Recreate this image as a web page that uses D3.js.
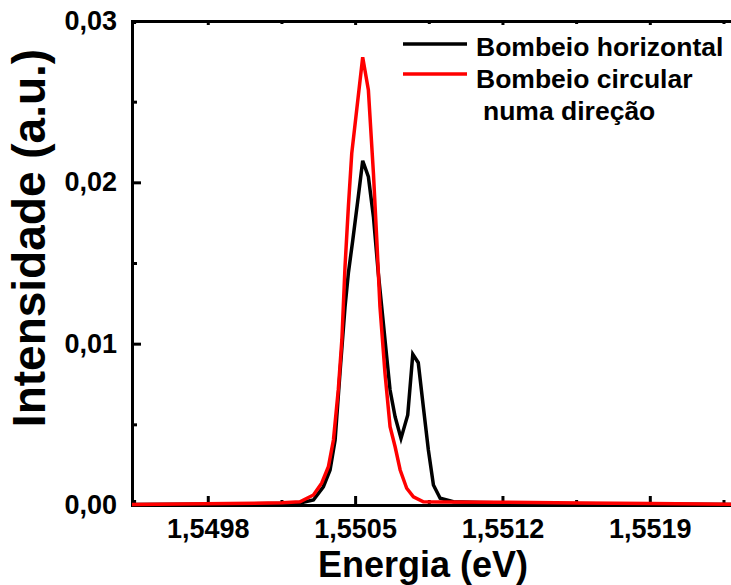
<!DOCTYPE html>
<html>
<head>
<meta charset="utf-8">
<script src="https://cdn.jsdelivr.net/npm/d3@7"></script>
<style>
  html, body { margin: 0; padding: 0; background: #fff; }
  svg { display: block; font-family: "Liberation Sans", Arial, sans-serif; font-weight: bold; }
  .axis path, .axis line { stroke: #000; stroke-width: 3; }
  .axis path { stroke-linecap: square; }
  .axis text { fill: #000; font-size: 27px; font-family: "Liberation Sans", Arial, sans-serif; font-weight: bold; }
</style>
</head>
<body>
<svg id="chart" width="731" height="585"></svg>
<script>
// Photoluminescence spectra: linear horizontal pumping vs circular pumping in one direction
const energyHorizontal = [
  1.54944, 1.549906, 1.550143, 1.550238, 1.550302, 1.550349, 1.550381, 1.550405,
  1.550428, 1.550452, 1.550468, 1.550489, 1.550515, 1.550536, 1.550563, 1.550587,
  1.550610, 1.550634, 1.550650, 1.550666, 1.550690, 1.550718, 1.550750, 1.550774,
  1.550800, 1.550824, 1.550848, 1.550872, 1.550904, 1.550967, 1.551094, 1.551426,
  1.551901, 1.5523
];
const intensityHorizontal = [
  0.00003, 0.00006, 0.00009, 0.00012, 0.00031, 0.00113, 0.00217, 0.00403,
  0.00818, 0.01227, 0.01438, 0.01643, 0.01911, 0.02134, 0.02035, 0.01787,
  0.01438, 0.01128, 0.00919, 0.00713, 0.00547, 0.00413, 0.00558, 0.00934,
  0.00882, 0.00609, 0.00341, 0.00124, 0.00042, 0.00020, 0.00015, 0.00009,
  0.00006, 0.00003
];

const energyCircular = [
  1.54944, 1.549906, 1.550153, 1.550238, 1.550302, 1.550341, 1.550373, 1.550397,
  1.550420, 1.550437, 1.550452, 1.550468, 1.550484, 1.550536, 1.550563, 1.550587,
  1.550603, 1.550618, 1.550642, 1.550666, 1.550690, 1.550714, 1.550745, 1.550777,
  1.550824, 1.550903, 1.551188, 1.551568, 1.551901, 1.5523
];
const intensityCircular = [
  0.00003, 0.00009, 0.00014, 0.00020, 0.00062, 0.00135, 0.00237, 0.00403,
  0.00713, 0.01023, 0.01477, 0.01849, 0.02180, 0.02775, 0.02572, 0.02056,
  0.01643, 0.01229, 0.00816, 0.00485, 0.00361, 0.00217, 0.00104, 0.00051,
  0.00020, 0.00019, 0.00017, 0.00012, 0.00009, 0.00004
];

const xMajorTicks = [1.5498, 1.5505, 1.5512, 1.5519];
const xMinorTicks = [1.54945, 1.55015, 1.55085, 1.55155, 1.55225];
const yMajorTicks = [0, 0.01, 0.02, 0.03];
const yMinorTicks = [0.005, 0.015, 0.025];

const seriesNames = ["Bombeio horizontal", "Bombeio circular", "numa direção"];
const seriesColors = ["#000000", "#ff0000"];

const ptBR = d3.formatLocale({ decimal: ",", thousands: ".", grouping: [3], currency: ["R$", ""] });
const fmtX = ptBR.format(".4f");
const fmtY = ptBR.format(".2f");

const svg = d3.select("#chart");
const plotLeft = 132, plotRight = 734, plotTop = 21, plotBottom = 505;

const x = d3.scaleLinear().domain([1.54944, 1.5523]).range([plotLeft, plotRight]);
const y = d3.scaleLinear().domain([0, 0.03]).range([plotBottom, plotTop]);

// minor ticks (no labels)
svg.append("g").attr("class", "axis")
  .attr("transform", `translate(0,${plotBottom})`)
  .call(d3.axisBottom(x).tickValues(xMinorTicks).tickSize(-5).tickSizeOuter(0).tickFormat(""))
  .call(g => g.select(".domain").remove());
svg.append("g").attr("class", "axis")
  .attr("transform", `translate(0,${plotTop})`)
  .call(d3.axisTop(x).tickValues(xMinorTicks).tickSize(-3).tickSizeOuter(0).tickFormat(""))
  .call(g => g.select(".domain").remove());
svg.append("g").attr("class", "axis")
  .attr("transform", `translate(${plotLeft},0)`)
  .call(d3.axisLeft(y).tickValues(yMinorTicks).tickSize(-5).tickSizeOuter(0).tickFormat(""))
  .call(g => g.select(".domain").remove());

// major axes
svg.append("g").attr("class", "axis")
  .attr("transform", `translate(0,${plotBottom})`)
  .call(d3.axisBottom(x).tickValues(xMajorTicks).tickSize(-9).tickSizeOuter(0).tickPadding(14).tickFormat(fmtX));
svg.append("g").attr("class", "axis")
  .attr("transform", `translate(0,${plotTop})`)
  .call(d3.axisTop(x).tickValues(xMajorTicks).tickSize(-4).tickSizeOuter(0).tickFormat(""));
svg.append("g").attr("class", "axis")
  .attr("transform", `translate(${plotLeft},0)`)
  .call(d3.axisLeft(y).tickValues(yMajorTicks).tickSize(-9).tickSizeOuter(0).tickPadding(15).tickFormat(fmtY));

// spectra
const line = d3.line().x(d => x(d[0])).y(d => y(d[1]));
const horizontal = energyHorizontal.map((e, i) => [e, intensityHorizontal[i]]);
const circular = energyCircular.map((e, i) => [e, intensityCircular[i]]);

svg.append("path").datum(horizontal)
  .attr("d", line).attr("fill", "none")
  .attr("stroke", seriesColors[0]).attr("stroke-width", 3.5);
svg.append("path").datum(circular)
  .attr("d", line).attr("fill", "none")
  .attr("stroke", seriesColors[1]).attr("stroke-width", 3.5);

// axis titles
svg.append("text")
  .attr("x", 423).attr("y", 577)
  .attr("text-anchor", "middle")
  .style("font-size", "36px")
  .text("Energia (eV)");
svg.append("text")
  .attr("transform", "translate(45,238) rotate(-90)")
  .attr("text-anchor", "middle")
  .style("font-size", "46px")
  .text("Intensidade (a.u.)");

// legend
const legend = svg.append("g").style("font-size", "26.5px");
legend.append("line").attr("x1", 403).attr("x2", 467).attr("y1", 44).attr("y2", 44)
  .attr("stroke", seriesColors[0]).attr("stroke-width", 3.5);
legend.append("text").attr("x", 476).attr("y", 56).text(seriesNames[0]);
legend.append("line").attr("x1", 403).attr("x2", 467).attr("y1", 74).attr("y2", 74)
  .attr("stroke", seriesColors[1]).attr("stroke-width", 3.5);
legend.append("text").attr("x", 476).attr("y", 88).text(seriesNames[1]);
legend.append("text").attr("x", 483).attr("y", 120).text(seriesNames[2]);
</script>
</body>
</html>
